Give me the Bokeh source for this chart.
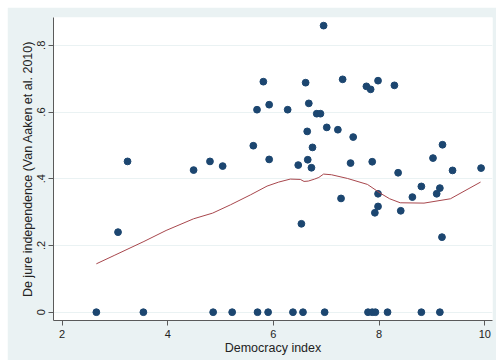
from bokeh.plotting import figure
from bokeh.models import FixedTicker
from bokeh.embed import file_html
from bokeh.resources import INLINE

# Democracy index vs. de jure central bank independence, one point per country
democracy = [
    2.65, 3.54, 4.86, 5.22, 5.70, 5.90, 6.37, 6.56, 6.97, 7.79, 7.87, 7.93, 8.16, 8.80, 9.15,
    3.06, 3.24, 4.49, 4.80, 5.04, 5.62, 5.69, 5.81, 5.92, 5.92, 6.27, 6.47, 6.53, 6.61, 6.64,
    6.65, 6.67, 6.72, 6.74, 6.82, 6.89, 6.95, 7.01, 7.22, 7.28, 7.31, 7.46, 7.51, 7.76, 7.84,
    7.87, 7.92, 7.98, 7.98, 7.98, 8.29, 8.36, 8.41, 8.63, 8.80, 9.02, 9.09, 9.15, 9.19, 9.20,
    9.39, 9.93,
]
independence = [
    0.0, 0.0, 0.0, 0.0, 0.0, 0.0, 0.0, 0.0, 0.0, 0.0, 0.0, 0.0, 0.0, 0.0, 0.0,
    0.240, 0.452, 0.426, 0.452, 0.438, 0.499, 0.607, 0.691, 0.622, 0.458, 0.607, 0.441, 0.265, 0.688, 0.542,
    0.457, 0.626, 0.433, 0.494, 0.595, 0.595, 0.859, 0.554, 0.547, 0.341, 0.698, 0.447, 0.525, 0.677, 0.668,
    0.451, 0.298, 0.694, 0.355, 0.317, 0.680, 0.418, 0.304, 0.345, 0.377, 0.462, 0.355, 0.372, 0.225, 0.502,
    0.425, 0.432,
]

# Lowess smooth of independence on democracy
lowess_x = [2.65, 3.00, 3.55, 3.97, 4.49, 4.85, 5.19, 5.57, 5.88, 6.10, 6.32, 6.51, 6.58,
            6.66, 6.78, 6.86, 6.95, 7.10, 7.40, 7.78, 8.03, 8.20, 8.40, 8.85, 9.35, 9.92]
lowess_y = [0.145, 0.171, 0.212, 0.245, 0.280, 0.297, 0.322, 0.352, 0.378, 0.390, 0.399, 0.398, 0.392,
            0.393, 0.399, 0.404, 0.414, 0.412, 0.401, 0.383, 0.356, 0.340, 0.328, 0.327, 0.340, 0.390]

x_ticks = [2, 4, 6, 8, 10]
y_ticks = [0, 0.2, 0.4, 0.6, 0.8]
y_tick_labels = ["0", ".2", ".4", ".6", ".8"]

BG = "#eaf2f3"
FONT = "Liberation Sans"

p = figure(
    width=489, height=353,
    x_range=(1.839, 10.146), y_range=(-0.0249, 0.8834),
    output_backend="svg", toolbar_location=None,
    min_border_left=46, min_border_right=4, min_border_top=10, min_border_bottom=40,
)
p.margin = (7, 0, 0, 7)
p.background_fill_color = "white"
p.border_fill_color = BG
p.outline_line_color = None

p.xgrid.visible = False
p.ygrid.grid_line_color = BG
p.ygrid.grid_line_width = 1.2
p.ygrid.ticker = FixedTicker(ticks=y_ticks)

p.scatter(democracy, independence, size=6.8, color="#1c4670", line_color="#1c4670")
p.line(lowess_x, lowess_y, line_color="#a8474d", line_width=1.0)

for ax in (p.xaxis[0], p.yaxis[0]):
    ax.axis_line_color = "#5a5a5a"
    ax.major_tick_line_color = "#5a5a5a"
    ax.major_tick_out = 5
    ax.major_tick_in = 0
    ax.minor_tick_line_color = None
    ax.major_label_text_font = FONT
    ax.major_label_text_font_size = "11px"
    ax.major_label_text_color = "#222222"
    ax.axis_label_text_font = FONT
    ax.axis_label_text_font_size = "12.5px"
    ax.axis_label_text_font_style = "normal"
    ax.axis_label_text_color = "#222222"

p.xaxis.ticker = FixedTicker(ticks=x_ticks)
p.xaxis.axis_label = "Democracy index"
p.xaxis.major_label_standoff = 4
p.xaxis.axis_label_standoff = 0

p.yaxis.ticker = FixedTicker(ticks=y_ticks)
p.yaxis.major_label_overrides = dict(zip(y_ticks, y_tick_labels))
p.yaxis.major_label_orientation = "parallel"
p.yaxis.axis_label = "De jure independence (Van Aaken et al. 2010)"
p.yaxis.major_label_standoff = 3
p.yaxis.axis_label_standoff = 0

open("out.html", "w").write(file_html(p, INLINE))
